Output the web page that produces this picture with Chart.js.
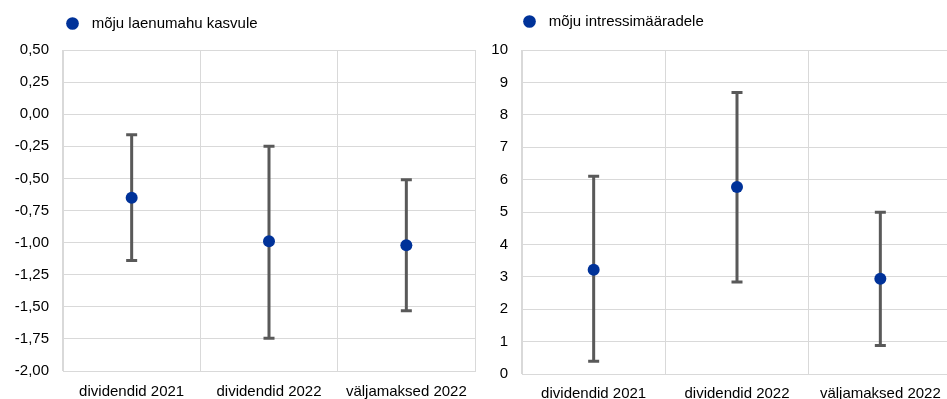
<!DOCTYPE html>
<html>
<head>
<meta charset="utf-8">
<script src="https://cdn.jsdelivr.net/npm/chart.js@4"></script>
<style>
  html, body { margin: 0; padding: 0; background: #fff; overflow: hidden; }
  #wrap { position: relative; width: 947px; height: 399px; overflow: hidden; }
  .box { position: absolute; top: 0; height: 399px; }
  #left { left: 0; width: 480px; }
  #right { left: 480px; width: 472px; }
</style>
</head>
<body>
<div id="wrap">
  <div class="box" id="left"><canvas id="loanChart"></canvas></div>
  <div class="box" id="right"><canvas id="rateChart"></canvas></div>
</div>
<script>
// Categories shared by both panels
const categories = ['dividendid 2021', 'dividendid 2022', 'väljamaksed 2022'];

// Left panel: impact on loan growth (point estimate + range)
const loanMid  = [-0.65, -0.99, -1.02];
const loanLow  = [-1.14, -1.745, -1.53];
const loanHigh = [-0.16, -0.25, -0.51];
const loanTickLabels = ['-2,00', '-1,75', '-1,50', '-1,25', '-1,00', '-0,75', '-0,50', '-0,25', '0,00', '0,25', '0,50'];

// Right panel: impact on interest rates
const rateMid  = [3.22, 5.77, 2.94];
const rateLow  = [0.39, 2.84, 0.88];
const rateHigh = [6.10, 8.69, 4.99];
const rateTickLabels = ['0', '1', '2', '3', '4', '5', '6', '7', '8', '9', '10'];

const FONT = 'Liberation Sans, Arial, sans-serif';
const BLUE = '#003299';
const GRID = '#d9d9d9';

// Draw the range whiskers under the points, using the chart's own scales
const whiskers = {
    id: 'whiskers',
    beforeDatasetsDraw(chart, args, opts) {
        const ctx = chart.ctx;
        const xs = chart.scales.x, ys = chart.scales.y;
        const ds = chart.data.datasets[0];
        ctx.save();
        ctx.strokeStyle = opts.color;
        ctx.lineWidth = opts.width;
        ds.low.forEach((lo, i) => {
            const px = xs.getPixelForValue(i);
            const y1 = ys.getPixelForValue(lo);
            const y2 = ys.getPixelForValue(ds.high[i]);
            ctx.beginPath();
            ctx.moveTo(px, y1); ctx.lineTo(px, y2);
            ctx.moveTo(px - opts.cap, y1); ctx.lineTo(px + opts.cap, y1);
            ctx.moveTo(px - opts.cap, y2); ctx.lineTo(px + opts.cap, y2);
            ctx.stroke();
        });
        ctx.restore();
    }
};

// Fix the legend block height so the plot starts where it should
const legendGap = {
    id: 'legendGap',
    beforeInit(chart, args, opts) {
        const fit = chart.legend.fit;
        chart.legend.fit = function() {
            fit.call(this);
            this.height = opts.height;
        };
    }
};

function makeChart(id, label, mid, low, high, yMin, yMax, step, tickLabels, cfg) {
    const ctx = document.getElementById(id).getContext('2d');
    return new Chart(ctx, {
        type: 'line',
        data: {
            labels: categories,
            datasets: [{
                label: label,
                data: mid,
                low: low,
                high: high,
                showLine: false,
                pointRadius: 6,
                pointHoverRadius: 6,
                pointBackgroundColor: BLUE,
                pointBorderColor: BLUE,
                pointBorderWidth: 0,
                backgroundColor: BLUE,
                borderColor: BLUE
            }]
        },
        plugins: [whiskers, legendGap],
        options: {
            responsive: true,
            maintainAspectRatio: false,
            animation: false,
            layout: {
                autoPadding: false,
                padding: { top: 14, left: 0, right: cfg.padRight, bottom: 0 }
            },
            plugins: {
                legend: {
                    position: 'top',
                    align: 'start',
                    fullSize: false,
                    labels: {
                        usePointStyle: true,
                        pointStyle: 'circle',
                        boxWidth: 15,
                        boxHeight: 9,
                        padding: cfg.legendPad,
                        color: '#000',
                        font: { family: FONT, size: 15 },
                        generateLabels(chart) {
                            const items = Chart.defaults.plugins.legend.labels.generateLabels(chart);
                            items.forEach(it => { it.text = ' ' + it.text; });
                            return items;
                        }
                    }
                },
                legendGap: { height: 36 },
                whiskers: { color: '#595959', width: 3, cap: 5.5 },
                tooltip: { enabled: false }
            },
            scales: {
                x: {
                    type: 'category',
                    offset: true,
                    grid: { color: GRID, offset: true, drawTicks: false },
                    border: { color: GRID },
                    ticks: { color: '#000', font: { family: FONT, size: 15 }, padding: cfg.xPad, maxRotation: 0 },
                    afterFit(scale) {
                        scale.height = cfg.xHeight;
                        scale.paddingLeft = 0;
                        scale.paddingRight = 0;
                    }
                },
                y: {
                    min: yMin,
                    max: yMax,
                    grid: { color: GRID, drawTicks: false },
                    border: { color: GRID },
                    ticks: {
                        stepSize: step,
                        color: '#000',
                        font: { family: FONT, size: 15 },
                        padding: cfg.yPad,
                        callback: (v, i) => tickLabels[i]
                    },
                    afterFit(scale) { scale.width = cfg.yWidth; }
                }
            }
        }
    });
}

makeChart('loanChart', 'mõju laenumahu kasvule', loanMid, loanLow, loanHigh, -2, 0.5, 0.25, loanTickLabels,
    { padRight: 5, legendPad: 2, xPad: 12, xHeight: 28, yPad: 14, yWidth: 63 });

makeChart('rateChart', 'mõju intressimääradele', rateMid, rateLow, rateHigh, 0, 10, 1, rateTickLabels,
    { padRight: 0, legendPad: 0, xPad: 11, xHeight: 25, yPad: 14, yWidth: 42 });
</script>
</body>
</html>
